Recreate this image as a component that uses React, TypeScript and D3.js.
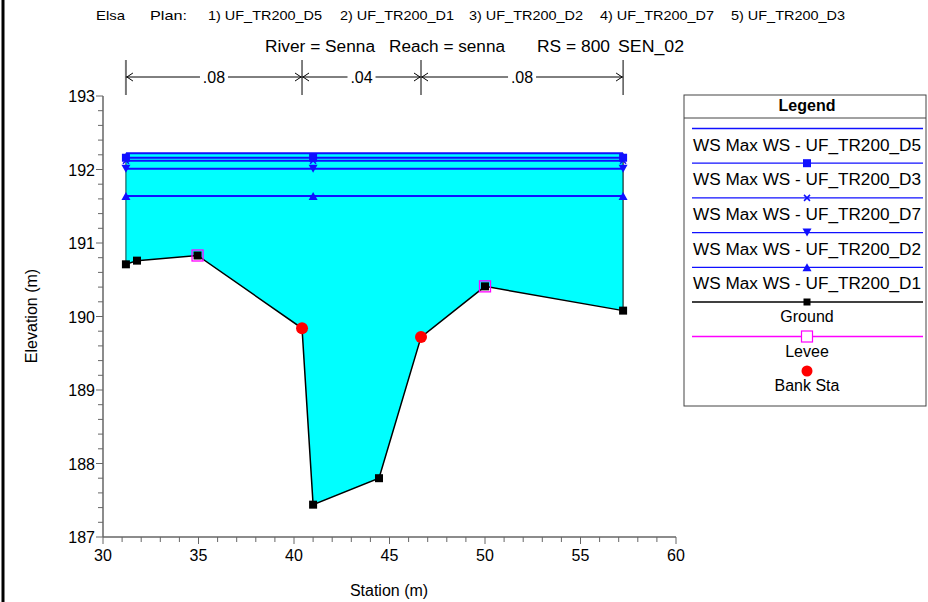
import React from "react";
import * as d3 from "d3";

// ---- data ----
const groundStation = [31.2, 31.78, 34.95, 40.42, 41.0, 44.45, 46.65, 50.0, 57.23];
const groundElev = [190.71, 190.76, 190.83, 189.84, 187.44, 187.8, 189.72, 190.41, 190.08];
const leveeStation = [34.95, 50.0];
const leveeElev = [190.83, 190.41];
const bankStation = [40.42, 46.65];
const bankElev = [189.84, 189.72];
const wsStation = [31.2, 41.0, 57.23];
const wsNames = ["UF_TR200_D5", "UF_TR200_D3", "UF_TR200_D7", "UF_TR200_D2", "UF_TR200_D1"];
const wsElev = [192.22, 192.16, 192.12, 192.01, 191.64];
const wsMarker = ["none", "square", "x", "down", "up"];
const nValues = [".08", ".04", ".08"];
const nBounds = [31.2, 40.42, 46.65, 57.23];
const xTicks = [30, 35, 40, 45, 50, 55, 60];
const yTicks = [187, 188, 189, 190, 191, 192, 193];
const planNames = ["1) UF_TR200_D5", "2) UF_TR200_D1", "3) UF_TR200_D2", "4) UF_TR200_D7", "5) UF_TR200_D3"];

const BLUE = "#1010ff";
const FONT = "Liberation Sans, Arial, sans-serif";
const NARROW = "Liberation Sans Narrow, Arial Narrow, Liberation Sans, Arial, sans-serif";

function Marker({ kind, x, y }: { kind: string; x: number; y: number }) {
  if (kind === "square") return <rect x={x - 4} y={y - 4} width={8} height={8} fill={BLUE} />;
  if (kind === "x")
    return (
      <path d={`M${x - 3},${y - 3}L${x + 3},${y + 3}M${x - 3},${y + 3}L${x + 3},${y - 3}`} stroke={BLUE} strokeWidth={1.5} />
    );
  if (kind === "down") return <path d={`M${x - 4.5},${y - 4}L${x + 4.5},${y - 4}L${x},${y + 4}Z`} fill={BLUE} />;
  if (kind === "up") return <path d={`M${x - 4.5},${y + 4}L${x + 4.5},${y + 4}L${x},${y - 4}Z`} fill={BLUE} />;
  return null;
}

export default function App() {
  const x = d3.scaleLinear().domain([30, 60]).range([103, 676]);
  const y = d3.scaleLinear().domain([187, 193]).range([537, 96]);

  const ground = groundStation.map((s, i) => [s, groundElev[i]] as [number, number]);
  const line = d3
    .line<[number, number]>()
    .x((d) => x(d[0]))
    .y((d) => y(d[1]));

  const topWS = d3.max(wsElev) as number;
  const fillPts: [number, number][] = [
    [groundStation[0], topWS],
    [groundStation[groundStation.length - 1], topWS],
    ...ground.slice().reverse(),
  ];

  const yMinor = d3.range(187, 193.001, 0.2);
  const xMinor = d3.range(30, 60.001, 1);

  const legendRows = wsNames.map((n, i) => ({ label: "WS Max WS - " + n, marker: wsMarker[i] }));
  const legX0 = 692,
    legX1 = 923,
    legCx = 807;

  const headerX = [208, 340, 469, 600, 731];

  return (
    <svg width={928} height={602} style={{ position: "absolute", left: 0, top: 0, background: "#fff" }}>
      <rect x={0} y={0} width={928} height={602} fill="#fff" />
      {/* left border */}
      <line x1={3} y1={0} x2={3} y2={602} stroke="#000" strokeWidth={3} />

      {/* header */}
      <g fontFamily={NARROW} fontSize={13} fill="#000">
        <text x={96} y={20} textLength={29} lengthAdjust="spacingAndGlyphs">Elsa</text>
        <text x={150} y={20} textLength={37} lengthAdjust="spacingAndGlyphs">Plan:</text>
        {planNames.map((p, i) => (
          <text key={p} x={headerX[i]} y={20} textLength={114} lengthAdjust="spacingAndGlyphs">
            {p}
          </text>
        ))}
      </g>
      <g fontFamily={NARROW} fontSize={16} fill="#000">
        <text x={265} y={52} textLength={110} lengthAdjust="spacingAndGlyphs">River = Senna</text>
        <text x={389} y={52} textLength={116} lengthAdjust="spacingAndGlyphs">Reach = senna</text>
        <text x={537} y={52} textLength={73} lengthAdjust="spacingAndGlyphs">RS = 800</text>
        <text x={618} y={52} textLength={66} lengthAdjust="spacingAndGlyphs">SEN_02</text>
      </g>

      {/* n-values */}
      <g stroke="#000" strokeWidth={1} fill="none">
        {nBounds.map((s, i) => (
          <line key={"nb" + i} x1={x(s)} x2={x(s)} y1={60} y2={95} stroke={i === 0 ? "#777" : "#000"} strokeWidth={i === 0 ? 2 : 1} />
        ))}
        {nValues.map((v, i) => {
          const a = x(nBounds[i]);
          const b = x(nBounds[i + 1]);
          const c = (a + b) / 2;
          const hw = 14;
          return (
            <g key={"nv" + i}>
              <line x1={a} x2={c - hw} y1={77} y2={77} />
              <line x1={c + hw} x2={b} y1={77} y2={77} />
              <path d={`M${a + 7},${73}L${a + 1},${77}L${a + 7},${81}`} />
              <path d={`M${b - 7},${73}L${b - 1},${77}L${b - 7},${81}`} />
            </g>
          );
        })}
      </g>
      <g fontFamily={FONT} fontSize={16} fill="#000" textAnchor="middle">
        {nValues.map((v, i) => (
          <text key={"nt" + i} x={(x(nBounds[i]) + x(nBounds[i + 1])) / 2} y={83}>
            {v}
          </text>
        ))}
      </g>

      {/* water fill */}
      <path d={line(fillPts) + "Z"} fill="#00ffff" stroke="none" />
      <line x1={x(groundStation[0])} x2={x(groundStation[0])} y1={y(topWS)} y2={y(groundElev[0])} stroke="#044" strokeWidth={1} />
      <line
        x1={x(groundStation[groundStation.length - 1])}
        x2={x(groundStation[groundStation.length - 1])}
        y1={y(topWS)}
        y2={y(groundElev[groundElev.length - 1])}
        stroke="#000"
        strokeWidth={1}
      />

      {/* WS lines */}
      {wsElev.map((e, i) => (
        <g key={"ws" + i}>
          <line x1={x(wsStation[0])} x2={x(wsStation[wsStation.length - 1])} y1={y(e)} y2={y(e)} stroke={BLUE} strokeWidth={2} />
          {wsStation.map((s, j) => (
            <Marker key={j} kind={wsMarker[i]} x={x(s)} y={y(e)} />
          ))}
        </g>
      ))}

      {/* ground */}
      <path d={line(ground) as string} fill="none" stroke="#000" strokeWidth={1.5} />
      {ground.map((d, i) => (
        <rect key={"g" + i} x={x(d[0]) - 4} y={y(d[1]) - 4} width={8} height={8} fill="#000" />
      ))}
      {leveeStation.map((s, i) => (
        <rect key={"lv" + i} x={x(s) - 5.5} y={y(leveeElev[i]) - 5.5} width={11} height={11} fill="none" stroke="#ff00ff" strokeWidth={1.3} />
      ))}
      {bankStation.map((s, i) => (
        <circle key={"bk" + i} cx={x(s)} cy={y(bankElev[i])} r={6} fill="#ff0000" />
      ))}

      {/* axes */}
      <g stroke="#666" strokeWidth={1.5}>
        <line x1={103} x2={103} y1={y(193)} y2={y(187)} />
        <line x1={103} x2={676} y1={y(187)} y2={y(187)} />
        {yMinor.map((v, i) => (
          <line key={"ym" + i} x1={103 - (Math.abs(v - Math.round(v)) < 1e-6 ? 7 : 5)} x2={103} y1={y(v)} y2={y(v)} strokeWidth={1} />
        ))}
        {xMinor.map((v, i) => (
          <line key={"xm" + i} x1={x(v)} x2={x(v)} y1={537} y2={537 + (v % 5 === 0 ? 7 : 5)} strokeWidth={1} />
        ))}
      </g>
      <g fontFamily={FONT} fontSize={16} fill="#000">
        {yTicks.map((v) => (
          <text key={"yt" + v} x={95} y={y(v) + 6} textAnchor="end">
            {v}
          </text>
        ))}
        {xTicks.map((v) => (
          <text key={"xt" + v} x={x(v)} y={561} textAnchor="middle">
            {v}
          </text>
        ))}
        <text x={389} y={596} textAnchor="middle">Station (m)</text>
        <text transform="translate(37,316) rotate(-90)" textAnchor="middle">Elevation (m)</text>
      </g>

      {/* legend */}
      <rect x={684} y={95} width={242} height={311} fill="#fff" stroke="#444" strokeWidth={1} />
      <line x1={684} x2={926} y1={118} y2={118} stroke="#444" strokeWidth={1} />
      <text x={legCx} y={111} fontFamily={FONT} fontSize={16} fontWeight="bold" textAnchor="middle">
        Legend
      </text>
      {legendRows.map((r, i) => {
        const ly = 128.5 + i * 34.7;
        return (
          <g key={"lg" + i}>
            <line x1={legX0} x2={legX1} y1={ly} y2={ly} stroke={BLUE} strokeWidth={1.3} />
            <Marker kind={r.marker} x={legCx} y={ly} />
            <text x={legX0 + 1} y={ly + 22} fontFamily={FONT} fontSize={16} textLength={228} lengthAdjust="spacingAndGlyphs">
              {r.label}
            </text>
          </g>
        );
      })}
      <line x1={legX0} x2={legX1} y1={302} y2={302} stroke="#000" strokeWidth={1.3} />
      <rect x={legCx - 3.5} y={298.5} width={7} height={7} fill="#000" />
      <text x={legCx} y={322} fontFamily={FONT} fontSize={16} textAnchor="middle">Ground</text>
      <line x1={legX0} x2={legX1} y1={336.5} y2={336.5} stroke="#ff00ff" strokeWidth={1.3} />
      <rect x={legCx - 5.5} y={331} width={11} height={11} fill="#fff" stroke="#ff00ff" strokeWidth={1.2} />
      <text x={legCx} y={357} fontFamily={FONT} fontSize={16} textAnchor="middle">Levee</text>
      <circle cx={legCx} cy={371} r={5.5} fill="#ff0000" />
      <text x={legCx} y={391} fontFamily={FONT} fontSize={16} textAnchor="middle">Bank Sta</text>
    </svg>
  );
}
